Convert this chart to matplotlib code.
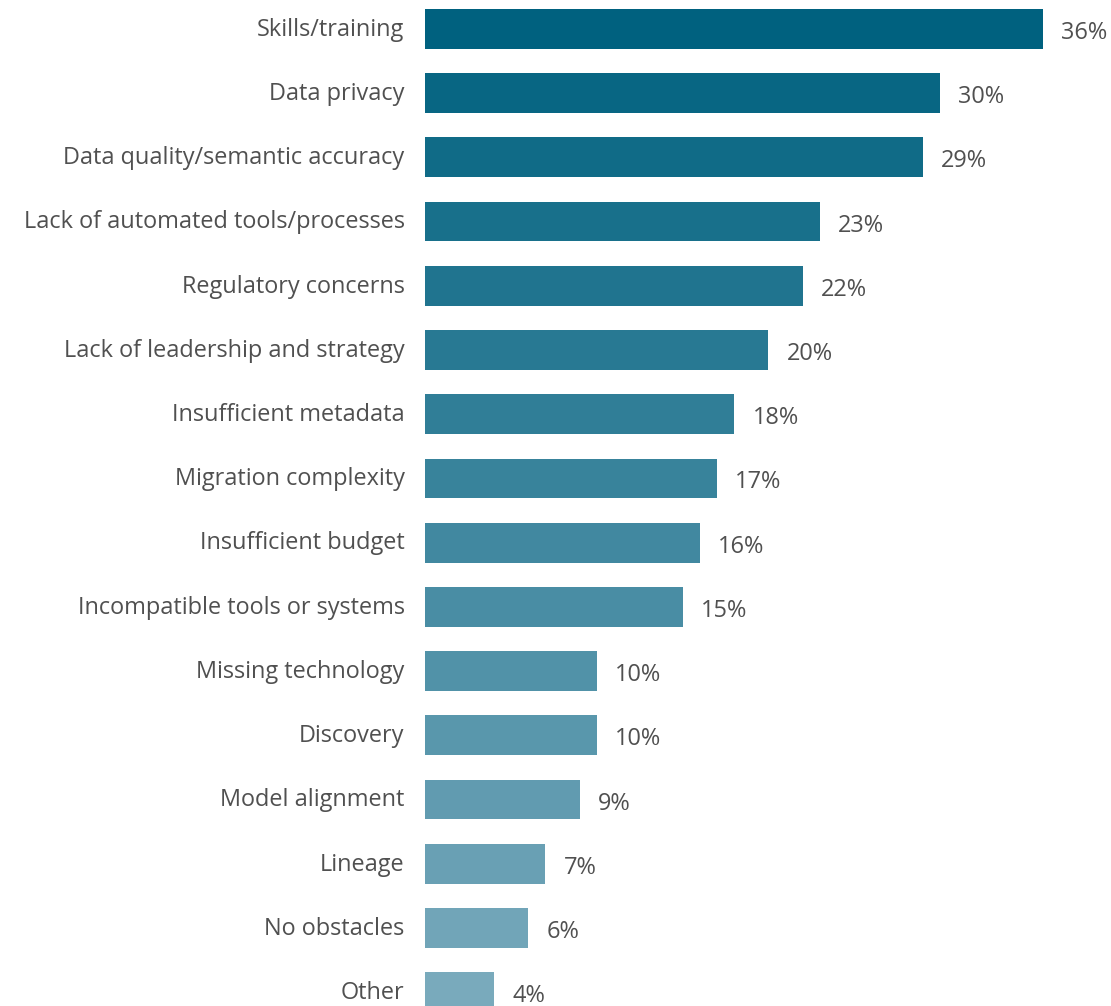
import matplotlib
matplotlib.use("Agg")
import matplotlib.pyplot as plt
import numpy as np
from matplotlib.colors import to_rgb

categories = [
    "Skills/training", "Data privacy", "Data quality/semantic accuracy",
    "Lack of automated tools/processes", "Regulatory concerns",
    "Lack of leadership and strategy", "Insufficient metadata",
    "Migration complexity", "Insufficient budget",
    "Incompatible tools or systems", "Missing technology", "Discovery",
    "Model alignment", "Lineage", "No obstacles", "Other",
]
values = [36, 30, 29, 23, 22, 20, 18, 17, 16, 15, 10, 10, 9, 7, 6, 4]
value_labels = [f"{v}%" for v in values]

plt.rcParams['font.family'] = ['Open Sans', 'DejaVu Sans']

W, H = 1111, 1006
fig = plt.figure(figsize=(W / 100, H / 100), dpi=100)

x0, x1 = 425, 1043
c0, c15 = 28.85, 992.2
pitch = (c15 - c0) / 15
top_px = c0 - pitch / 2
bot_px = c15 + pitch / 2
ax = fig.add_axes([x0 / W, (H - bot_px) / H, (x1 - x0) / W, (bot_px - top_px) / H])

start = np.array(to_rgb("#00617F"))
end = np.array(to_rgb("#79AABC"))
n = len(values)
colors = [tuple(start + (end - start) * i / (n - 1)) for i in range(n)]

y = np.arange(n)
ax.barh(y, values, height=39.8 / pitch, color=colors)
ax.set_xlim(0, 36)
ax.set_ylim(n - 0.5, -0.5)
ax.axis("off")

tc = "#505050"
fs = 16.9
for i, (v, lab) in enumerate(zip(values, value_labels)):
    ax.annotate(lab, (v, i), xytext=(18.5, -10), textcoords="offset pixels",
                ha="left", va="baseline", fontsize=fs, color=tc, annotation_clip=False)
for i, cat in enumerate(categories):
    ax.annotate(cat, (0, i), xytext=(-20.5, -6.8), textcoords="offset pixels",
                ha="right", va="baseline", fontsize=fs, color=tc, annotation_clip=False)

fig.savefig("out.png", dpi=100)
